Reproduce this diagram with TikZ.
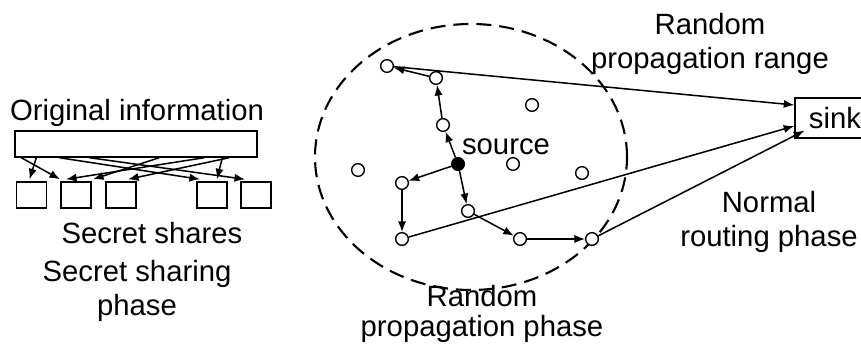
\documentclass[tikz,border=0pt]{standalone}
\usepackage{fontspec}
\setmainfont{Liberation Sans}
\usetikzlibrary{positioning, arrows.meta, calc}

\begin{document}
\begin{tikzpicture}[x=0.3mm, y=-0.3mm,
  dot/.style={circle, draw=black, line width=1.2pt, fill=white,
              minimum size=3.8mm, inner sep=0pt},
  srcdot/.style={dot, fill=black},
  box/.style={rectangle, draw=black, line width=1.2pt, inner sep=0pt},
  share/.style={box, minimum width=9mm, minimum height=7.8mm},
  arr/.style={-{Latex[length=9pt, width=7pt]}, line width=1.3pt, draw=black},
  lbl/.style={font=\fontsize{25}{29}\selectfont, align=center, inner sep=0pt},
  rangeline/.style={line width=1.8pt, dash pattern=on 4.5mm off 2.4mm}
]
\useasboundingbox (0,0) rectangle (861,345);

% secret sharing phase
\node[lbl] (origtxt) at (137,113) {Original information};
\node[box, minimum width=72.6mm, minimum height=7.8mm] (info) at (136,144) {};

\node[share] (s1) at (31.5,195) {};
\node[share] (s2) at (76,195)   {};
\node[share] (s3) at (121,195)  {};
\node[share] (s4) at (212,195)  {};
\node[share] (s5) at (256,195)  {};

\draw[arr] ($(info.south west)+(22,0)$)  -- ($(s1.north)+(-2,-2)$);
\draw[arr] ($(info.south west)+(7,0)$)   -- ($(s2.north)+(-16,-2)$);
\draw[arr] ($(info.south west)+(190,0)$) -- ($(s2.north)+(-10,-2)$);
\draw[arr] ($(info.south west)+(145,0)$) -- ($(s2.north)+(17,-2)$);
\draw[arr] ($(info.south west)+(215,0)$) -- ($(s3.north)+(7,-2)$);
\draw[arr] ($(info.south west)+(45,0)$)  -- ($(s4.north)+(-12,-2)$);
\draw[arr] ($(info.south west)+(208,0)$) -- ($(s4.north)+(5,-2)$);
\draw[arr] ($(info.south west)+(75,0)$)  -- ($(s5.north)+(-11,-2)$);

\node[lbl] (sharestxt) at (152,233) {Secret shares};
\node[lbl] (sharingtxt) at (137,291) {Secret sharing\\phase};

% random propagation phase
\draw[rangeline] (471,157) ellipse [x radius=46.8mm, y radius=39.9mm];

\node[dot] (n1)  at (387,66)  {};
\node[dot] (n2)  at (436,78)  {};
\node[dot] (n3)  at (532,105) {};
\node[dot] (n4)  at (443,125) {};
\node[srcdot] (src) at (458,164) {};
\node[dot] (n5)  at (358,170) {};
\node[dot] (n6)  at (513,164) {};
\node[dot] (n7)  at (582,173) {};
\node[dot] (n8)  at (402,183) {};
\node[dot] (n9)  at (468,211) {};
\node[dot] (n10) at (402,239) {};
\node[dot] (n11) at (520,239) {};
\node[dot] (n12) at (592,239) {};

\node[lbl] (srctxt) at (506,147) {source};

% normal routing phase
\node[box, minimum width=24mm, minimum height=12mm, font=\fontsize{25}{29}\selectfont] (sink) at (835,118) {sink};

\draw[arr] (src) -- (n4);
\draw[arr] (n4)  -- (n2);
\draw[arr] (n2)  -- (n1);
\draw[arr] (n1)  -- ($(sink.west)+(0,-13)$);
\draw[arr] (src) -- (n8);
\draw[arr] (n8)  -- (n10);
\draw[arr] (n10) -- ($(sink.west)+(0,8)$);
\draw[arr] (src) -- (n9);
\draw[arr] (n9)  -- (n11);
\draw[arr] (n11) -- (n12);
\draw[arr] (n12) -- ($(sink.south west)+(10,-8)$);

\node[lbl] (rangetxt) at (710,44) {Random\\propagation range};
\node[lbl] (routetxt) at (769,222) {Normal\\routing phase};
\node[lbl, font=\fontsize{25}{26}\selectfont] (proptxt) at (482,314) {Random\\propagation phase};

\end{tikzpicture}
\end{document}
